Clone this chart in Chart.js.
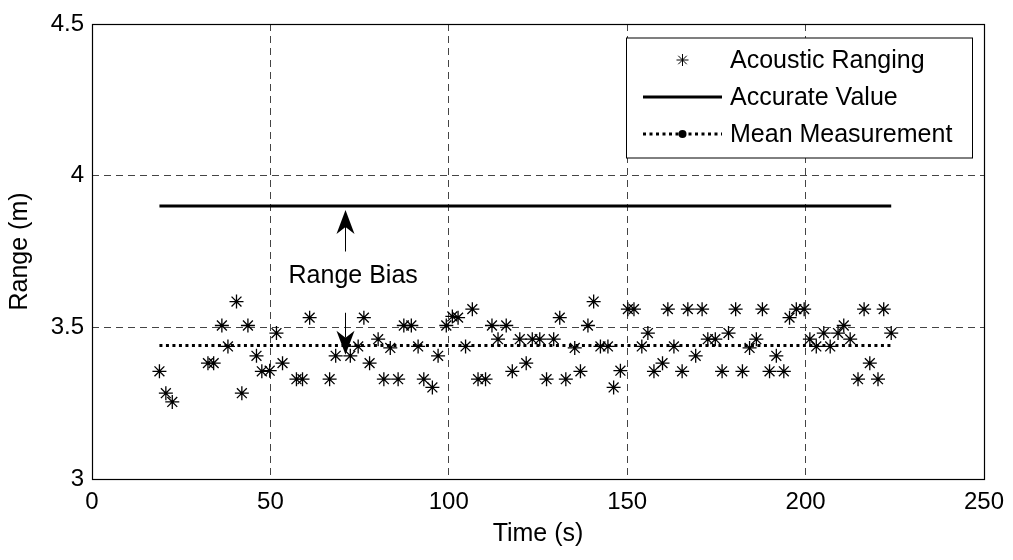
<!DOCTYPE html>
<html lang="en">
<head>
<meta charset="UTF-8" />
<title>Acoustic Ranging - Range Bias</title>
<script src="https://cdn.jsdelivr.net/npm/chart.js"></script>
<style>
  html, body { margin: 0; padding: 0; background: #ffffff; }
  #wrap { position: relative; width: 1013px; height: 560px; }
</style>
</head>
<body>
<div id="wrap"><canvas id="rangeChart" width="1013" height="560"></canvas></div>
<script>
  // acoustic ranging samples: time (s) and measured range (m)
  const sampleTimes = [
    18.9, 20.7, 22.5, 32.5, 34.1, 36.4, 38.1, 40.5, 42.0, 43.7,
    46.1, 47.6, 49.8, 51.7, 53.4, 57.3, 59.0, 61.0, 66.6, 68.3,
    72.4, 74.6, 76.2, 77.8, 80.2, 81.8, 83.6, 85.8, 87.4, 89.5,
    91.4, 93.0, 95.4, 97.0, 99.3, 101.0, 102.6, 104.7, 106.6, 108.2,
    110.3, 112.1, 113.8, 116.1, 117.8, 119.9, 121.7, 123.4, 125.5, 127.4,
    129.4, 131.1, 132.8, 135.3, 136.9, 139.0, 140.6, 142.5, 144.6, 146.2,
    148.1, 150.2, 151.9, 154.1, 155.8, 157.5, 159.9, 161.4, 163.1, 165.4,
    167.0, 169.2, 171.0, 172.6, 174.7, 176.6, 178.4, 180.4, 182.3, 184.3,
    186.2, 187.9, 189.9, 191.8, 193.9, 195.5, 197.4, 199.6, 201.2, 203.0,
    205.1, 206.9, 209.1, 210.7, 212.5, 214.7, 216.4, 218.0, 220.3, 221.9,
    224.0
  ];
  const sampleRanges = [
    3.355, 3.283, 3.254, 3.382, 3.382, 3.506, 3.437, 3.585, 3.283, 3.506,
    3.406, 3.355, 3.357, 3.481, 3.382, 3.329, 3.329, 3.532, 3.329, 3.406,
    3.406, 3.437, 3.532, 3.382, 3.461, 3.329, 3.432, 3.329, 3.506, 3.506,
    3.437, 3.329, 3.302, 3.406, 3.506, 3.536, 3.532, 3.437, 3.560, 3.329,
    3.329, 3.506, 3.461, 3.506, 3.355, 3.461, 3.382, 3.461, 3.461, 3.329,
    3.461, 3.532, 3.329, 3.432, 3.355, 3.506, 3.585, 3.437, 3.437, 3.302,
    3.357, 3.560, 3.560, 3.437, 3.481, 3.355, 3.382, 3.560, 3.437, 3.355,
    3.560, 3.406, 3.560, 3.461, 3.461, 3.355, 3.481, 3.560, 3.355, 3.432,
    3.461, 3.560, 3.355, 3.406, 3.355, 3.532, 3.560, 3.560, 3.461, 3.437,
    3.481, 3.437, 3.481, 3.506, 3.461, 3.329, 3.560, 3.382, 3.329, 3.560,
    3.481
  ];

  // reference lines over the test span
  const lineTimes = [18.9, 224.0];
  const accurateRange = [3.9, 3.9];
  const meanRange = [3.44, 3.44];

  const xTicks = [0, 50, 100, 150, 200, 250];
  const yTicks = [3, 3.5, 4, 4.5];

  // "Range Bias" arrows, in data units
  const biasTime = 70.8;
  const upArrow = [3.75, 3.887];    // tail, tip
  const downArrow = [3.548, 3.41];  // tail, tip
  const biasLabel = { t: 73.2, v: 3.646, text: 'Range Bias' };

  const FONT = "'Liberation Sans', Arial, Helvetica, sans-serif";

  const toPoints = (xs, ys) => xs.map((x, i) => ({ x: x, y: ys[i] }));

  // dashed grid only inside the box, not on its edges
  const innerGrid = (lo, hi) => ctx =>
    (ctx.tick && (ctx.tick.value === lo || ctx.tick.value === hi)) ? 'rgba(0,0,0,0)' : '#444';

  function drawStar(ctx, x, y, r) {
    const d = r * Math.SQRT1_2;
    ctx.beginPath();
    ctx.moveTo(x - r, y); ctx.lineTo(x + r, y);
    ctx.moveTo(x, y - r); ctx.lineTo(x, y + r);
    ctx.moveTo(x - d, y - d); ctx.lineTo(x + d, y + d);
    ctx.moveTo(x - d, y + d); ctx.lineTo(x + d, y - d);
    ctx.stroke();
  }

  function drawArrow(ctx, x, yTail, yTip) {
    const dir = Math.sign(yTip - yTail);
    const headLen = 24, halfW = 9, notch = 17;
    ctx.beginPath();
    ctx.moveTo(x, yTail);
    ctx.lineTo(x, yTip - dir * notch);
    ctx.stroke();
    ctx.beginPath();
    ctx.moveTo(x, yTip);
    ctx.lineTo(x - halfW, yTip - dir * headLen);
    ctx.lineTo(x, yTip - dir * notch);
    ctx.lineTo(x + halfW, yTip - dir * headLen);
    ctx.closePath();
    ctx.fill();
  }

  // axes box, bias annotation and the legend inside the plot
  const decorPlugin = {
    id: 'decor',
    afterDraw(chart) {
      const ctx = chart.ctx;
      const area = chart.chartArea;
      const xs = chart.scales.x, ys = chart.scales.y;
      ctx.save();

      // box
      ctx.strokeStyle = '#000';
      ctx.lineWidth = 1.2;
      ctx.strokeRect(Math.round(area.left) + 0.5, Math.round(area.top) + 0.5,
        Math.round(area.right - area.left), Math.round(area.bottom - area.top));

      // range bias arrows + text
      ctx.fillStyle = '#000';
      ctx.lineWidth = 1;
      const ax = Math.round(xs.getPixelForValue(biasTime)) + 0.5;
      drawArrow(ctx, ax, ys.getPixelForValue(upArrow[0]), ys.getPixelForValue(upArrow[1]));
      drawArrow(ctx, ax, ys.getPixelForValue(downArrow[0]), ys.getPixelForValue(downArrow[1]));
      ctx.font = '25px ' + FONT;
      ctx.textAlign = 'center';
      ctx.textBaseline = 'alphabetic';
      ctx.fillText(biasLabel.text, xs.getPixelForValue(biasLabel.t), ys.getPixelForValue(biasLabel.v));

      // legend
      const bx = 626.5, by = area.top + 14, bw = 346, bh = 120;
      ctx.fillStyle = '#fff';
      ctx.fillRect(bx, by, bw, bh);
      ctx.strokeStyle = '#000';
      ctx.lineWidth = 1;
      ctx.strokeRect(bx, by, bw, bh);

      const sets = chart.data.datasets;
      const rowY = [60, 97, 134];
      const lx0 = 643, lx1 = 722, lmid = (lx0 + lx1) / 2;
      ctx.font = '25px ' + FONT;
      ctx.textAlign = 'left';
      ctx.textBaseline = 'middle';
      ctx.fillStyle = '#000';

      // star marker
      ctx.lineWidth = 1;
      drawStar(ctx, lmid, rowY[0], 6);
      // solid line
      ctx.lineWidth = 3;
      ctx.beginPath(); ctx.moveTo(lx0, rowY[1]); ctx.lineTo(lx1, rowY[1]); ctx.stroke();
      // dotted line with dot marker
      ctx.setLineDash([3, 3.5]);
      ctx.beginPath(); ctx.moveTo(lx0, rowY[2]); ctx.lineTo(lx1, rowY[2]); ctx.stroke();
      ctx.setLineDash([]);
      ctx.beginPath(); ctx.arc(lmid, rowY[2], 4, 0, Math.PI * 2); ctx.fill();

      sets.forEach((ds, i) => ctx.fillText(ds.label, 730, rowY[i] + 1));
      ctx.restore();
    }
  };

  new Chart(document.getElementById('rangeChart'), {
    type: 'scatter',
    data: {
      datasets: [
        {
          label: 'Acoustic Ranging',
          data: toPoints(sampleTimes, sampleRanges),
          pointStyle: 'star',
          pointRadius: 7,
          pointBorderWidth: 1.3,
          borderColor: '#000',
          backgroundColor: '#000',
          showLine: false
        },
        {
          label: 'Accurate Value',
          data: toPoints(lineTimes, accurateRange),
          showLine: true,
          borderColor: '#000',
          borderWidth: 3,
          pointRadius: 0
        },
        {
          label: 'Mean Measurement',
          data: toPoints(lineTimes, meanRange),
          showLine: true,
          borderColor: '#000',
          borderWidth: 3,
          borderDash: [3, 3.5],
          pointRadius: 0
        }
      ]
    },
    options: {
      responsive: false,
      animation: false,
      events: [],
      layout: { padding: { top: 24, right: 29, left: 0, bottom: 0 } },
      plugins: {
        legend: { display: false },
        tooltip: { enabled: false }
      },
      scales: {
        x: {
          type: 'linear',
          min: 0,
          max: 250,
          afterBuildTicks: s => { s.ticks = xTicks.map(v => ({ value: v })); },
          afterFit: s => { s.height = 81; },
          grid: { color: innerGrid(0, 250), lineWidth: 1, drawTicks: false },
          border: { display: false, dash: [7, 5] },
          ticks: {
            color: '#000', padding: 9, maxRotation: 0, autoSkip: false,
            font: { family: FONT, size: 24 },
            callback: v => String(v)
          },
          title: {
            display: true, text: 'Time (s)', color: '#000',
            font: { family: FONT, size: 25 },
            padding: { top: 0, bottom: 11 }
          }
        },
        y: {
          type: 'linear',
          min: 3,
          max: 4.5,
          afterBuildTicks: s => { s.ticks = yTicks.map(v => ({ value: v })); },
          afterFit: s => { s.width = 92; },
          grid: { color: innerGrid(3, 4.5), lineWidth: 1, drawTicks: false },
          border: { display: false, dash: [7, 5] },
          ticks: {
            color: '#000', padding: 8,
            font: { family: FONT, size: 24 },
            callback: v => String(v)
          },
          title: {
            display: true, text: 'Range (m)', color: '#000',
            font: { family: FONT, size: 25 },
            padding: { top: 5, bottom: 0 }
          }
        }
      }
    },
    plugins: [decorPlugin]
  });
</script>
</body>
</html>
